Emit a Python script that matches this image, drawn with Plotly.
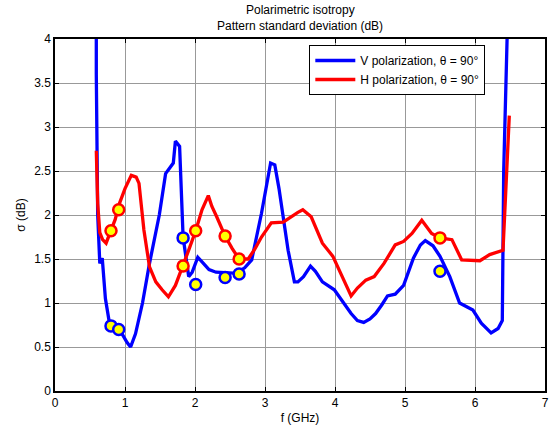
import plotly.graph_objects as go

# V polarization curve
v_f = [0.59, 0.59, 0.61, 0.64, 0.675, 0.72, 0.78, 0.85, 0.95, 1.03, 1.08, 1.15, 1.25, 1.35, 1.49, 1.58, 1.69, 1.72, 1.78,
       1.83, 1.91, 1.96, 2.04, 2.12, 2.20, 2.30, 2.43, 2.55, 2.63, 2.71, 2.81, 2.95, 3.08, 3.14, 3.20, 3.28, 3.33, 3.42,
       3.47, 3.55, 3.65, 3.72, 3.82, 3.99, 4.10, 4.23, 4.32, 4.41, 4.50, 4.58, 4.67, 4.75, 4.86, 4.98, 5.12, 5.22, 5.29,
       5.40, 5.50, 5.64, 5.78, 5.97, 6.09, 6.23, 6.33, 6.39, 6.41, 6.45, 6.46]
v_s = [4.05, 3.6, 2.0, 1.45, 1.51, 1.05, 0.76, 0.72, 0.66, 0.55, 0.50, 0.65, 1.00, 1.45, 2.00, 2.47, 2.59, 2.84, 2.78,
       1.75, 1.30, 1.35, 1.52, 1.45, 1.38, 1.35, 1.34, 1.34, 1.36, 1.40, 1.49, 2.02, 2.59, 2.57, 2.30, 1.83, 1.60, 1.24,
       1.24, 1.30, 1.42, 1.36, 1.24, 1.15, 1.02, 0.88, 0.80, 0.78, 0.82, 0.88, 0.98, 1.08, 1.10, 1.20, 1.51, 1.66, 1.71,
       1.65, 1.53, 1.30, 1.00, 0.92, 0.77, 0.66, 0.71, 0.80, 2.5, 4.0, 4.05]

# H polarization curve
h_f = [0.59, 0.61, 0.64, 0.68, 0.73, 0.80, 0.86, 0.92, 1.00, 1.09, 1.16, 1.20, 1.27, 1.35, 1.44, 1.53, 1.62, 1.72, 1.83,
       1.91, 2.01, 2.10, 2.19, 2.24, 2.31, 2.43, 2.53, 2.63, 2.76, 2.86, 2.95, 3.09, 3.26, 3.42, 3.47, 3.54, 3.66, 3.82,
       3.97, 4.08, 4.23, 4.32, 4.44, 4.56, 4.70, 4.86, 4.98, 5.10, 5.24, 5.38, 5.50, 5.67, 5.81, 6.07, 6.21, 6.40, 6.49]
h_s = [2.73, 2.13, 1.80, 1.72, 1.68, 1.82, 1.95, 2.13, 2.30, 2.45, 2.43, 2.36, 1.83, 1.41, 1.24, 1.15, 1.07, 1.20, 1.42,
       1.60, 1.82, 2.06, 2.22, 2.10, 1.98, 1.76, 1.62, 1.50, 1.50, 1.62, 1.75, 1.91, 1.92, 2.01, 2.03, 2.06, 1.98, 1.68,
       1.53, 1.34, 1.08, 1.17, 1.26, 1.30, 1.45, 1.66, 1.70, 1.79, 1.94, 1.79, 1.74, 1.72, 1.49, 1.48, 1.55, 1.60, 3.13]

# Markers
vm_f = [0.80, 0.91, 1.83, 2.01, 2.43, 2.63, 5.50]
vm_s = [0.74, 0.70, 1.74, 1.21, 1.29, 1.33, 1.36]
hm_f = [0.80, 0.91, 1.83, 2.01, 2.43, 2.63, 5.50]
hm_s = [1.82, 2.06, 1.42, 1.82, 1.76, 1.50, 1.74]

x_ticks = [0, 1, 2, 3, 4, 5, 6, 7]
y_ticks = [0, 0.5, 1, 1.5, 2, 2.5, 3, 3.5, 4]
y_labels = ["0", "0.5", "1", "1.5", "2", "2.5", "3", "3.5", "4"]

title_lines = ["Polarimetric isotropy", "Pattern standard deviation (dB)"]

BLUE = "#0000ff"
RED = "#ff0000"
YELLOW = "#ffff00"

fig = go.Figure()
fig.add_trace(go.Scatter(x=v_f, y=v_s, mode="lines", line=dict(color=BLUE, width=3.3),
                         name="V polarization, θ = 90°"))
fig.add_trace(go.Scatter(x=h_f, y=h_s, mode="lines", line=dict(color=RED, width=3.3),
                         name="H polarization, θ = 90°"))
fig.add_trace(go.Scatter(x=vm_f, y=vm_s, mode="markers", showlegend=False,
                         marker=dict(size=11, color=YELLOW, line=dict(color=BLUE, width=2.5))))
fig.add_trace(go.Scatter(x=hm_f, y=hm_s, mode="markers", showlegend=False,
                         marker=dict(size=11, color=YELLOW, line=dict(color=RED, width=2.5))))

axis_common = dict(showline=True, linecolor="black", linewidth=1.5, mirror="ticks",
                   ticks="inside", ticklen=4, tickcolor="black",
                   showgrid=True, gridcolor="#999999", gridwidth=1, zeroline=False,
                   tickfont=dict(family="Liberation Sans, Arial", size=12, color="black"))

for i, t in enumerate(title_lines):
    fig.add_annotation(text=t, xref="paper", yref="paper", x=0.5, y=1 + (29 - 16 * i) / 352,
                       xanchor="center", yanchor="middle", showarrow=False,
                       font=dict(family="Liberation Sans, Arial", size=12, color="black"))

fig.update_layout(
    width=551, height=432,
    margin=dict(l=55, r=2, t=39, b=41),
    paper_bgcolor="white", plot_bgcolor="white",
    font=dict(family="Liberation Sans, Arial", size=12, color="black"),
    xaxis=dict(range=[0, 7], tickvals=x_ticks,
               title=dict(text="f (GHz)", standoff=4, font=dict(size=12)), **axis_common),
    yaxis=dict(range=[0, 4], tickvals=y_ticks, ticktext=y_labels,
               title=dict(text="σ (dB)", standoff=6, font=dict(size=12)), **axis_common),
    legend=dict(x=0.519, y=0.983, xanchor="left", yanchor="top",
                bgcolor="white", bordercolor="black", borderwidth=1,
                font=dict(size=12), tracegroupgap=0, itemwidth=40),
)

fig.write_html("out.html")
